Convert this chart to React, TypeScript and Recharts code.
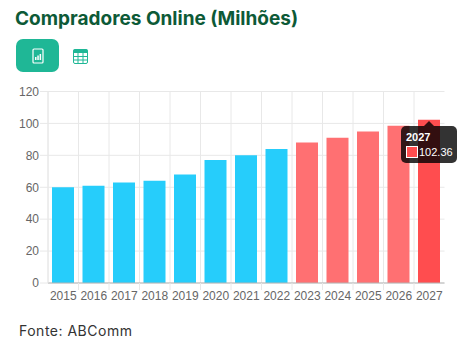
import { BarChart, Bar, Cell, XAxis, YAxis, CartesianGrid, Tooltip } from 'recharts';

const years = ['2015', '2016', '2017', '2018', '2019', '2020', '2021', '2022', '2023', '2024', '2025', '2026', '2027'];
const buyers = [60, 61, 63, 64, 68, 77, 80, 84, 88, 91, 95, 98.5, 102.36];
const barColors = [
  '#26cdfb', '#26cdfb', '#26cdfb', '#26cdfb', '#26cdfb', '#26cdfb', '#26cdfb', '#26cdfb',
  '#ff7072', '#ff7072', '#ff7072', '#ff7072', '#ff4d4f',
];
const yTicks = [0, 20, 40, 60, 80, 100, 120];

const chartData = years.map((year, i) => ({ year, buyers: buyers[i] }));

const STEP = 30.5;
const GRID = '#e8e8e8';
const SANS = 'Liberation Sans, Arial, sans-serif';

// Chart.js style: tick mark sits on the category boundary, label in the middle
const YearTick = ({ x, y, payload }: any) => (
  <g>
    {payload.index > 0 && <line x1={x - STEP / 2} x2={x - STEP / 2} y1={y - 8} y2={y - 1} stroke={GRID} />}
    <text x={x} y={y + 9} textAnchor="middle" fontSize={12} fontFamily={SANS} fill="#666">
      {payload.value}
    </text>
  </g>
);

const DarkTooltip = () => (
  <div
    style={{
      position: 'relative',
      width: 56,
      height: 37,
      background: 'rgba(0,0,0,0.8)',
      borderRadius: 5,
      color: '#fff',
      fontFamily: SANS,
      fontSize: 11,
      lineHeight: '14px',
    }}
  >
    <div
      style={{
        position: 'absolute',
        left: 23,
        top: -5,
        width: 0,
        height: 0,
        borderLeft: '5px solid transparent',
        borderRight: '5px solid transparent',
        borderBottom: '5px solid rgba(0,0,0,0.8)',
      }}
    />
    <div style={{ position: 'absolute', left: 5, top: 4, fontWeight: 700 }}>2027</div>
    <div
      style={{
        position: 'absolute',
        left: 5,
        top: 20,
        width: 10,
        height: 10,
        background: '#ff4d4f',
        border: '1px solid #fff',
      }}
    />
    <div style={{ position: 'absolute', left: 18, top: 19 }}>102.36</div>
  </div>
);

export default function App() {
  return (
    <div style={{ position: 'absolute', left: 0, top: 0, width: 474, height: 355, background: '#fff', overflow: 'hidden' }}>
      <div
        style={{
          position: 'absolute',
          left: 15,
          top: 7,
          fontFamily: 'Inter, sans-serif',
          fontWeight: 700,
          fontSize: 19,
          lineHeight: '24px',
          color: '#0d5a37',
          whiteSpace: 'nowrap',
        }}
      >
        Compradores Online (Milhões)
      </div>

      {/* chart / table toggle */}
      <div style={{ position: 'absolute', left: 16, top: 39, width: 43, height: 33, background: '#1fb796', borderRadius: 7 }}>
        <svg width={43} height={33}>
          <rect x={17} y={10} width={10} height={14} rx={1} fill="none" stroke="#fff" strokeWidth={1.2} />
          <rect x={19} y={18} width={1.5} height={3} fill="#fff" />
          <rect x={21.3} y={16.5} width={1.5} height={4.5} fill="#fff" />
          <rect x={23.6} y={15} width={1.5} height={6} fill="#fff" />
        </svg>
      </div>
      <svg style={{ position: 'absolute', left: 73, top: 49 }} width={15} height={15}>
        <rect x={0.5} y={0.5} width={14} height={14} rx={1.5} fill="#fff" stroke="#1fb796" />
        <rect x={0.5} y={0.5} width={14} height={3.5} fill="#1fb796" />
        <path d="M5 4v10M10 4v10M1 7.5h13M1 11h13" stroke="#1fb796" strokeWidth={1} />
      </svg>

      <div style={{ position: 'absolute', left: 0, top: 83 }}>
        <BarChart
          width={474}
          height={230}
          data={chartData}
          margin={{ top: 8.5, right: 29.5, bottom: 0, left: 0 }}
          barSize={22}
        >
          <CartesianGrid
            stroke={GRID}
            verticalCoordinatesGenerator={({ offset }: any) =>
              years.map((_, i) => offset.left + (i * offset.width) / years.length)
            }
          />
          <XAxis dataKey="year" stroke="#b5b5b5" tick={<YearTick />} tickLine={false} interval={0} height={30} />
          <YAxis
            domain={[0, 120]}
            ticks={yTicks}
            width={48}
            stroke={GRID}
            tickSize={8}
            tickMargin={1}
            tick={{ fontSize: 12, fill: '#666', fontFamily: SANS }}
          />
          <Tooltip
            active
            defaultIndex={12}
            cursor={false}
            content={<DarkTooltip />}
            position={{ x: 401, y: 43 }}
            isAnimationActive={false}
            wrapperStyle={{ outline: 'none' }}
          />
          <Bar dataKey="buyers" isAnimationActive={false}>
            {chartData.map((d, i) => (
              <Cell key={d.year} fill={barColors[i]} />
            ))}
          </Bar>
        </BarChart>
      </div>

      <div
        style={{
          position: 'absolute',
          left: 19,
          top: 322,
          fontFamily: 'Inter, sans-serif',
          fontSize: 14,
          letterSpacing: 0.5,
          lineHeight: '18px',
          color: '#333',
          whiteSpace: 'nowrap',
        }}
      >
        Fonte: ABComm
      </div>
    </div>
  );
}
